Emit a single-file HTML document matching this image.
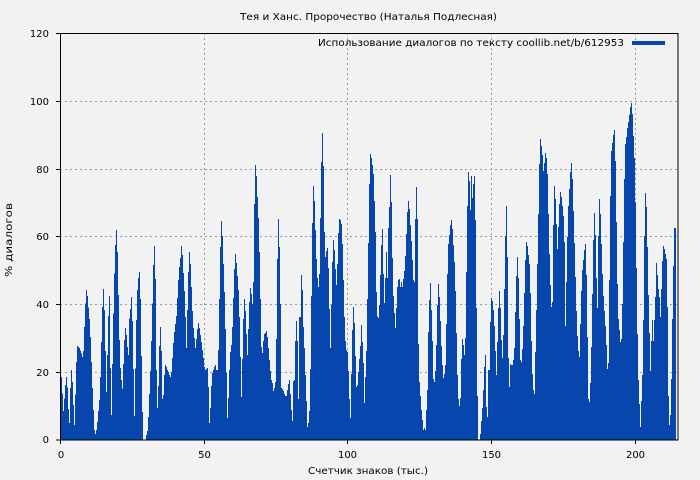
<!DOCTYPE html>
<html><head><meta charset="utf-8"><style>
html,body{margin:0;padding:0;background:#f2f2f2;}
svg{display:block;}
text{font-family:"DejaVu Sans","Liberation Sans",sans-serif;fill:#000;}
</style></head><body>
<svg width="700" height="480" viewBox="0 0 700 480" xmlns="http://www.w3.org/2000/svg">
<rect x="0" y="0" width="700" height="480" fill="#f2f2f2"/>
<g stroke="#9a9a9a" stroke-width="1" stroke-dasharray="2,3" fill="none">
<line x1="204.5" y1="33" x2="204.5" y2="440"/>
<line x1="347.5" y1="33" x2="347.5" y2="440"/>
<line x1="491.5" y1="33" x2="491.5" y2="440"/>
<line x1="635.5" y1="33" x2="635.5" y2="440"/>
<line x1="60" y1="372.5" x2="678" y2="372.5"/>
<line x1="60" y1="304.5" x2="678" y2="304.5"/>
<line x1="60" y1="236.5" x2="678" y2="236.5"/>
<line x1="60" y1="169.5" x2="678" y2="169.5"/>
<line x1="60" y1="101.5" x2="678" y2="101.5"/>
</g>
<g fill="#0747ad" shape-rendering="crispEdges">
<path transform="translate(58,150) scale(0.333333)" d="M8,870 V681 H12 V731 H15 V783 H18 V746 H21 V705 H24 V681 H27 V712 H30 V777 H33 V819 H36 V714 H39 V660 H42 V696 H45 V765 H48 V825 H51 V733 H54 V636 H57 V588 H60 V591 H63 V594 H66 V601 H69 V611 H72 V621 H75 V603 H78 V531 H81 V460 H84 V420 H87 V438 H90 V472 H93 V507 H96 V561 H99 V636 H102 V714 H105 V780 H108 V840 H111 V852 H114 V840 H117 V816 H120 V783 H123 V750 H126 V681 H129 V576 H132 V471 H135 V417 H138 V480 H141 V603 H144 V726 H147 V615 H150 V498 H153 V438 H156 V654 H159 V795 H162 V642 H165 V490 H168 V370 H171 V285 H174 V240 H177 V306 H180 V435 H183 V570 H186 V654 H189 V690 H192 V715 H195 V642 H198 V570 H201 V534 H204 V555 H207 V591 H210 V615 H213 V505 H216 V477 H219 V441 H222 V513 H225 V657 H228 V798 H231 V655 H234 V510 H237 V420 H240 V384 H243 V366 H246 V447 H249 V618 H252 V786 H255 V870 H264 V855 H267 V843 H270 V801 H273 V732 H276 V663 H279 V573 H282 V460 H285 V345 H288 V288 H291 V387 H294 V660 H297 V774 H300 V708 H303 V588 H306 V531 H309 V603 H312 V747 H315 V735 H318 V675 H321 V645 H324 V651 H327 V660 H330 V666 H333 V675 H336 V681 H339 V666 H342 V624 H345 V579 H348 V546 H351 V522 H354 V498 H357 V444 H360 V390 H363 V351 H366 V324 H369 V288 H372 V315 H375 V870 Z"/>
<path transform="translate(180,150) scale(0.333333)" d="M9,870 V369 H12 V423 H15 V501 H18 V594 H21 V480 H24 V366 H27 V306 H30 V342 H33 V411 H36 V483 H39 V534 H42 V564 H45 V594 H48 V567 H51 V537 H54 V519 H57 V534 H60 V555 H63 V576 H66 V600 H69 V624 H72 V651 H75 V660 H78 V657 H81 V654 H84 V711 H87 V819 H90 V774 H93 V708 H96 V669 H99 V660 H102 V651 H105 V645 H108 V660 H111 V660 H114 V600 H117 V447 H120 V291 H123 V213 H126 V258 H129 V342 H132 V426 H135 V537 H138 V669 H141 V804 H144 V744 H147 V660 H150 V606 H153 V585 H156 V531 H159 V444 H162 V357 H165 V312 H168 V339 H171 V378 H174 V420 H177 V501 H180 V621 H183 V741 H186 V627 H189 V507 H192 V447 H195 V483 H198 V552 H201 V615 H204 V537 H207 V456 H210 V414 H213 V432 H216 V462 H219 V396 H222 V162 H225 V45 H228 V78 H231 V141 H234 V204 H237 V306 H240 V447 H243 V591 H246 V609 H249 V573 H252 V552 H255 V549 H258 V543 H261 V561 H264 V594 H267 V630 H270 V663 H273 V690 H276 V699 H279 V723 H282 V714 H285 V696 H288 V567 H291 V327 H294 V207 H297 V291 H300 V462 H303 V714 H306 V717 H309 V723 H312 V732 H315 V738 H318 V738 H321 V720 H324 V702 H327 V690 H330 V732 H333 V780 H336 V813 H339 V693 H342 V690 H345 V573 H348 V513 H351 V573 H354 V747 H357 V501 H360 V501 H363 V375 H366 V420 H369 V531 H372 V594 H375 V870 Z"/>
<path transform="translate(302,120) scale(0.333333)" d="M9,960 V765 H12 V843 H15 V921 H18 V909 H21 V873 H24 V747 H27 V528 H30 V309 H33 V198 H36 V243 H39 V330 H42 V417 H45 V474 H48 V501 H51 V462 H54 V294 H57 V126 H60 V39 H63 V138 H66 V336 H69 V411 H72 V393 H75 V384 H78 V444 H81 V567 H84 V684 H87 V555 H90 V426 H93 V360 H96 V390 H99 V447 H102 V495 H105 V432 H108 V339 H111 V297 H114 V300 H117 V312 H120 V372 H123 V480 H126 V591 H129 V663 H132 V690 H135 V696 H138 V753 H141 V837 H144 V894 H147 V762 H150 V630 H153 V561 H156 V609 H159 V708 H162 V801 H165 V795 H168 V756 H171 V717 H174 V678 H177 V615 H180 V666 H183 V729 H186 V849 H189 V771 H192 V693 H195 V537 H198 V369 H201 V192 H204 V102 H207 V114 H210 V135 H213 V162 H216 V243 H219 V336 H222 V516 H225 V590 H228 V594 H231 V555 H234 V465 H237 V375 H240 V327 H243 V462 H246 V549 H249 V474 H252 V396 H255 V474 H258 V324 H261 V261 H264 V165 H267 V246 H270 V414 H273 V528 H276 V579 H279 V624 H282 V564 H285 V501 H288 V480 H291 V477 H294 V501 H297 V486 H300 V501 H303 V477 H306 V453 H309 V408 H312 V342 H315 V276 H318 V243 H321 V267 H324 V315 H327 V363 H330 V420 H333 V480 H336 V486 H339 V297 H342 V201 H345 V297 H348 V672 H351 V786 H354 V828 H357 V870 H360 V900 H363 V930 H366 V924 H369 V930 H372 V870 H375 V960 Z"/>
<path transform="translate(424,120) scale(0.333333)" d="M9,960 V810 H12 V636 H15 V540 H18 V489 H21 V570 H24 V663 H27 V777 H30 V786 H33 V753 H36 V675 H39 V555 H42 V492 H45 V531 H48 V603 H51 V678 H54 V735 H57 V774 H60 V762 H63 V735 H66 V612 H69 V462 H72 V372 H75 V345 H78 V315 H81 V300 H84 V327 H87 V375 H90 V426 H93 V513 H96 V639 H99 V765 H102 V837 H105 V858 H108 V834 H111 V717 H114 V657 H117 V675 H120 V705 H123 V654 H126 V456 H129 V258 H132 V156 H135 V183 H138 V270 H141 V168 H144 V234 H147 V192 H150 V168 H153 V300 H156 V564 H159 V828 H162 V960 H168 V942 H171 V903 H174 V864 H177 V810 H180 V741 H183 V705 H186 V861 H189 V891 H192 V750 H195 V750 H198 V606 H201 V534 H204 V543 H207 V570 H210 V618 H213 V693 H216 V765 H219 V666 H222 V564 H225 V513 H228 V564 H231 V660 H234 V714 H237 V645 H240 V507 H243 V348 H246 V258 H249 V411 H252 V714 H255 V801 H258 V732 H261 V735 H264 V735 H267 V720 H270 V684 H273 V576 H276 V468 H279 V411 H282 V474 H285 V597 H288 V720 H291 V726 H294 V687 H297 V618 H300 V519 H303 V420 H306 V366 H309 V378 H312 V405 H315 V432 H318 V519 H321 V663 H324 V762 H327 V810 H330 V822 H333 V696 H336 V570 H339 V432 H342 V282 H345 V132 H348 V57 H351 V78 H354 V105 H357 V153 H360 V129 H363 V99 H366 V114 H369 V162 H372 V282 H375 V960 Z"/>
<path transform="translate(546,95) scale(0.333333)" d="M9,1035 V477 H12 V570 H15 V636 H18 V621 H21 V390 H24 V273 H27 V312 H30 V387 H33 V462 H36 V396 H39 V327 H42 V291 H45 V306 H48 V333 H51 V363 H54 V441 H57 V693 H60 V561 H63 V426 H66 V333 H69 V282 H72 V231 H75 V204 H78 V252 H81 V348 H84 V444 H87 V546 H90 V648 H93 V723 H96 V768 H99 V786 H102 V687 H105 V588 H108 V525 H111 V495 H114 V465 H117 V447 H120 V540 H123 V726 H126 V912 H129 V921 H132 V864 H135 V756 H138 V597 H141 V435 H144 V354 H147 V420 H150 V549 H153 V639 H156 V423 H159 V312 H162 V357 H165 V447 H168 V537 H171 V603 H174 V648 H177 V693 H180 V750 H183 V822 H186 V804 H189 V555 H192 V303 H195 V168 H198 V144 H201 V120 H204 V105 H207 V198 H210 V381 H213 V567 H216 V672 H219 V705 H222 V741 H225 V732 H228 V627 H231 V441 H234 V252 H237 V147 H240 V126 H243 V99 H246 V81 H249 V60 H252 V36 H255 V24 H258 V57 H261 V123 H264 V189 H267 V321 H270 V519 H273 V717 H276 V855 H279 V927 H282 V996 H285 V918 H288 V840 H291 V675 H294 V423 H297 V294 H300 V336 H303 V456 H306 V600 H309 V714 H312 V828 H315 V738 H318 V675 H321 V738 H324 V675 H327 V606 H330 V504 H333 V540 H336 V582 H339 V606 H342 V666 H345 V582 H348 V498 H351 V453 H354 V462 H357 V477 H360 V492 H363 V636 H366 V903 H369 V990 H372 V960 H375 V852 H378 V672 H381 V513 H384 V399 H390 V1035 Z"/>
</g>
<rect x="60.5" y="33.5" width="617.5" height="406.5" fill="none" stroke="#000" stroke-width="1"/>
<g stroke="#000" stroke-width="1">
<line x1="56" y1="440" x2="60" y2="440"/>
<line x1="56" y1="372.5" x2="60" y2="372.5"/>
<line x1="56" y1="304.5" x2="60" y2="304.5"/>
<line x1="56" y1="236.5" x2="60" y2="236.5"/>
<line x1="56" y1="169.5" x2="60" y2="169.5"/>
<line x1="56" y1="101.5" x2="60" y2="101.5"/>
<line x1="56" y1="33.5" x2="60" y2="33.5"/>
<line x1="60.5" y1="440" x2="60.5" y2="444"/>
<line x1="204.5" y1="440" x2="204.5" y2="444"/>
<line x1="347.5" y1="440" x2="347.5" y2="444"/>
<line x1="491.5" y1="440" x2="491.5" y2="444"/>
<line x1="635.5" y1="440" x2="635.5" y2="444"/>
</g>
<g font-size="10" text-anchor="end">
<text x="49" y="443">0</text>
<text x="49" y="376">20</text>
<text x="49" y="308">40</text>
<text x="49" y="240">60</text>
<text x="49" y="173">80</text>
<text x="49" y="105">100</text>
<text x="49" y="37">120</text>
</g>
<g font-size="10" text-anchor="middle">
<text x="61" y="458">0</text>
<text x="204.5" y="458">50</text>
<text x="347.5" y="458">100</text>
<text x="491.5" y="458">150</text>
<text x="635.5" y="458">200</text>
</g>
<text x="368.5" y="20" font-size="10" text-anchor="middle" textLength="257" lengthAdjust="spacingAndGlyphs">Тея и Ханс. Пророчество (Наталья Подлесная)</text>
<text x="624" y="46" font-size="10" text-anchor="end" textLength="306" lengthAdjust="spacingAndGlyphs">Использование диалогов по тексту coollib.net/b/612953</text>
<rect x="632" y="41" width="33" height="4" fill="#0747ad"/>
<text x="368" y="474" font-size="10" text-anchor="middle" textLength="120" lengthAdjust="spacingAndGlyphs">Счетчик знаков (тыс.)</text>
<text transform="translate(12,240) rotate(-90)" font-size="10" text-anchor="middle" textLength="74" lengthAdjust="spacingAndGlyphs">% диалогов</text>
</svg>
</body></html>
